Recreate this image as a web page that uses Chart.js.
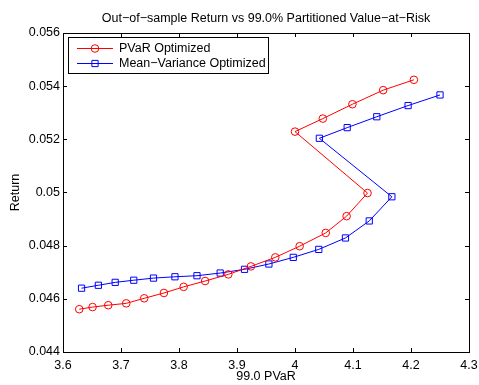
<!DOCTYPE html>
<html>
<head>
<meta charset="utf-8">
<script src="https://cdn.jsdelivr.net/npm/chart.js@4"></script>
<style>
  html, body { margin: 0; padding: 0; background: #fff; }
  canvas { display: block; }
</style>
</head>
<body>
<canvas id="c" width="479" height="385"></canvas>
<script>
// 99.0% partitioned VaR (x) and out-of-sample return (y) for each portfolio
const pvarOptX = [3.628, 3.651, 3.678, 3.709, 3.740, 3.774, 3.808, 3.845, 3.885, 3.924,
                  3.966, 4.008, 4.053, 4.089, 4.125, 4.000, 4.048, 4.099, 4.152, 4.205];
const pvarOptY = [0.04561, 0.04569, 0.04576, 0.04583, 0.04602, 0.04622, 0.04645, 0.04667, 0.04692, 0.04722,
                  0.04756, 0.04798, 0.04848, 0.04911, 0.04998, 0.05229, 0.05278, 0.05332, 0.05385, 0.05424];
const mvOptX = [3.632, 3.661, 3.690, 3.722, 3.756, 3.793, 3.831, 3.871, 3.913, 3.955,
                3.997, 4.041, 4.087, 4.128, 4.167, 4.042, 4.090, 4.141, 4.195, 4.250];
const mvOptY = [0.04640, 0.04651, 0.04662, 0.04670, 0.04678, 0.04683, 0.04687, 0.04697, 0.04711, 0.04731,
                0.04756, 0.04786, 0.04829, 0.04893, 0.04984, 0.05204, 0.05244, 0.05285, 0.05327, 0.05367];

const xTicks = [3.6, 3.7, 3.8, 3.9, 4.0, 4.1, 4.2, 4.3];
const yTicks = [0.044, 0.046, 0.048, 0.050, 0.052, 0.054, 0.056];

const seriesNames = ['PVaR Optimized', 'Mean\u2212Variance Optimized'];
const titleText = 'Out\u2212of\u2212sample Return vs 99.0% Partitioned Value\u2212at\u2212Risk';
const xTitle = '99.0 PVaR';
const yTitle = 'Return';

const FONT = '"Liberation Sans", Arial, Helvetica, sans-serif';
const FS = 12.5;
const RED = '#ff0000';
const BLUE = '#0000ff';

const toPoints = (xs, ys) => xs.map((x, i) => ({ x: x, y: ys[i] }));
const fmt = v => String(Number(v.toFixed(4)));

// Frame, inward tick marks, title, axis titles and legend box
const framePlugin = {
  id: 'frame',
  beforeDraw(chart) {
    const ctx = chart.ctx;
    ctx.save();
    ctx.fillStyle = '#fff';
    ctx.fillRect(0, 0, chart.width, chart.height);
    ctx.restore();
  },
  afterDraw(chart) {
    const ctx = chart.ctx;
    const a = chart.chartArea;
    const xs = chart.scales.x, ys = chart.scales.y;
    const tl = 4;
    ctx.save();
    ctx.strokeStyle = '#000';
    ctx.lineWidth = 1;
    ctx.beginPath();
    xTicks.forEach(v => {
      const px = Math.round(xs.getPixelForValue(v)) + 0.5;
      ctx.moveTo(px, a.bottom); ctx.lineTo(px, a.bottom - tl);
      ctx.moveTo(px, a.top); ctx.lineTo(px, a.top + tl);
    });
    yTicks.forEach(v => {
      const py = Math.round(ys.getPixelForValue(v)) + 0.5;
      ctx.moveTo(a.left, py); ctx.lineTo(a.left + tl, py);
      ctx.moveTo(a.right, py); ctx.lineTo(a.right - tl, py);
    });
    ctx.stroke();
    ctx.strokeRect(Math.round(a.left) + 0.5, Math.round(a.top) + 0.5,
                   Math.round(a.right - a.left), Math.round(a.bottom - a.top));

    // title and axis titles
    ctx.fillStyle = '#000';
    ctx.textAlign = 'center';
    ctx.textBaseline = 'middle';
    ctx.font = FS + 'px ' + FONT;
    const cx = (a.left + a.right) / 2;
    ctx.fillText(titleText, cx, 19);
    ctx.fillText(xTitle, cx, 377);
    ctx.save();
    ctx.translate(16, (a.top + a.bottom) / 2);
    ctx.rotate(-Math.PI / 2);
    ctx.fillText(yTitle, 0, 0);
    ctx.restore();

    // legend
    const lx = 68.5, ly = 37.5, lw = 200, lh = 36;
    ctx.fillStyle = '#fff';
    ctx.fillRect(lx, ly, lw, lh);
    ctx.strokeStyle = '#000';
    ctx.strokeRect(lx, ly, lw, lh);
    const rows = [48, 63];
    chart.data.datasets.forEach((ds, i) => {
      const y = rows[i] + 0.5;
      ctx.strokeStyle = ds.borderColor;
      ctx.lineWidth = 1;
      ctx.beginPath();
      ctx.moveTo(77, y); ctx.lineTo(113, y);
      ctx.stroke();
      ctx.beginPath();
      if (ds.pointStyle === 'circle') {
        ctx.arc(95, y, ds.pointRadius, 0, Math.PI * 2);
      } else {
        const s = Math.SQRT1_2 * ds.pointRadius;
        ctx.rect(95 - s, y - s, 2 * s, 2 * s);
      }
      ctx.stroke();
      ctx.fillStyle = '#000';
      ctx.textAlign = 'left';
      ctx.textBaseline = 'middle';
      ctx.font = FS + 'px ' + FONT;
      ctx.fillText(ds.label, 119, y);
    });
    ctx.restore();
  }
};

new Chart(document.getElementById('c'), {
  type: 'scatter',
  data: {
    datasets: [
      {
        label: seriesNames[0],
        data: toPoints(pvarOptX, pvarOptY),
        showLine: true,
        borderColor: RED,
        backgroundColor: 'rgba(0,0,0,0)',
        borderWidth: 1,
        pointStyle: 'circle',
        pointRadius: 3.8,
        pointBorderWidth: 1,
        pointBorderColor: RED,
        pointBackgroundColor: 'rgba(0,0,0,0)',
        tension: 0
      },
      {
        label: seriesNames[1],
        data: toPoints(mvOptX, mvOptY),
        showLine: true,
        borderColor: BLUE,
        backgroundColor: 'rgba(0,0,0,0)',
        borderWidth: 1,
        pointStyle: 'rect',
        pointRadius: 4.4,
        pointBorderWidth: 1,
        pointBorderColor: BLUE,
        pointBackgroundColor: 'rgba(0,0,0,0)',
        tension: 0
      }
    ]
  },
  options: {
    responsive: false,
    devicePixelRatio: 1,
    animation: false,
    events: [],
    layout: { padding: { left: 0, right: 10, top: 33, bottom: 0 } },
    plugins: {
      legend: { display: false },
      title: { display: false },
      tooltip: { enabled: false }
    },
    scales: {
      x: {
        type: 'linear',
        min: 3.6,
        max: 4.3,
        afterFit: s => { s.height = 33; s.paddingLeft = 0; s.paddingRight = 0; },
        afterBuildTicks: s => { s.ticks = xTicks.map(v => ({ value: v })); },
        grid: { display: false, drawTicks: false },
        border: { display: false },
        ticks: {
          padding: 6,
          color: '#000',
          font: { family: FONT, size: FS },
          maxRotation: 0,
          callback: v => fmt(v)
        }
      },
      y: {
        type: 'linear',
        min: 0.044,
        max: 0.056,
        afterFit: s => { s.width = 63; s.paddingTop = 0; s.paddingBottom = 0; },
        afterBuildTicks: s => { s.ticks = yTicks.map(v => ({ value: v })); },
        grid: { display: false, drawTicks: false },
        border: { display: false },
        ticks: {
          padding: 3,
          color: '#000',
          font: { family: FONT, size: FS },
          callback: v => fmt(v)
        }
      }
    }
  },
  plugins: [framePlugin]
});
</script>
</body>
</html>
